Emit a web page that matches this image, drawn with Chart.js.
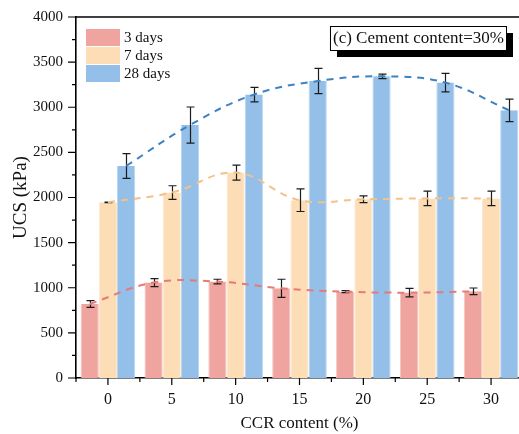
<!DOCTYPE html>
<html>
<head>
<meta charset="utf-8">
<script src="https://cdn.jsdelivr.net/npm/chart.js@4.4.1/dist/chart.umd.min.js"></script>
<style>
  html, body { margin: 0; padding: 0; background: #fff; overflow: hidden; }
  #wrap { position: relative; width: 530px; height: 434px; }
  #wrap canvas { position: absolute; left: 0; top: 0; display: block; }
  #trendLayer { pointer-events: none; }
</style>
</head>
<body>
<div id="wrap">
  <canvas id="ucsChart" width="530" height="434"></canvas>
  <canvas id="trendLayer" width="530" height="434"></canvas>
</div>
<script>
// UCS vs CCR content, cement content 30%
const categories  = ["0", "5", "10", "15", "20", "25", "30"];
const seriesNames = ["3 days", "7 days", "28 days"];
const ucs3  = [820, 1057, 1068, 994, 957, 946, 960];
const err3  = [38, 44, 26, 100, 12, 48, 37];
const ucs7  = [1947, 2055, 2276, 1970, 1980, 1990, 1990];
const err7  = [3, 75, 83, 125, 37, 80, 80];
const ucs28 = [2349, 2803, 3140, 3290, 3343, 3273, 2966];
const err28 = [138, 200, 80, 140, 25, 103, 125];
const yTicks = [0, 500, 1000, 1500, 2000, 2500, 3000, 3500, 4000];
const noteText = "(c) Cement content=30%";

const values = [ucs3, ucs7, ucs28];
const errors = [err3, err7, err28];
const barColors  = ["#efa49f", "#fcddb5", "#93bfe8"];
const barEdges   = ["#f5c3bf", "#fde9cf", "#b9d6f0"];
const lineColors = ["#e57a78", "#f3c18a", "#3e82c4"];
const SERIF = "'Liberation Serif', 'Times New Roman', serif";
const GROUP = 0.855;            // categoryPercentage for the bar groups
const BAR_W = GROUP / 3;        // one bar, in category units

const barSets = values.map((v, s) => ({
  label: seriesNames[s],
  data: v,
  backgroundColor: barColors[s],
  borderColor: barEdges[s],
  borderWidth: { left: 1, right: 1, top: 0, bottom: 0 },
  categoryPercentage: GROUP,
  barPercentage: 1
}));

// dashed trend curves, one per age, running over the centre of each bar
const trendSets = values.map((v, s) => ({
  label: seriesNames[s] + " trend",
  data: v.map((val, i) => ({ x: i + (s - 1) * BAR_W, y: val })),
  borderColor: lineColors[s],
  borderWidth: 2,
  borderDash: [7, 6],
  pointRadius: 0,
  tension: 0.4,
  fill: false
}));

const decor = {
  id: "decor",
  afterDatasetsDraw(chart) {
    const { ctx, scales: { y } } = chart;
    ctx.save();
    ctx.strokeStyle = "#1c1c1c";
    ctx.lineWidth = 1.2;
    values.forEach((vals, s) => {
      chart.getDatasetMeta(s).data.forEach((bar, j) => {
        const hi = y.getPixelForValue(vals[j] + errors[s][j]);
        const lo = y.getPixelForValue(vals[j] - errors[s][j]);
        const cx = Math.round(bar.x) + 0.5;
        ctx.beginPath();
        ctx.moveTo(cx, hi); ctx.lineTo(cx, lo);
        ctx.moveTo(cx - 4, hi); ctx.lineTo(cx + 4, hi);
        ctx.moveTo(cx - 4, lo); ctx.lineTo(cx + 4, lo);
        ctx.stroke();
      });
    });
    ctx.restore();
  },
  afterDraw(chart) {
    const { ctx, chartArea: a, scales: { x, y } } = chart;
    ctx.save();
    ctx.strokeStyle = "#000";
    ctx.lineWidth = 1.6;

    // top frame
    ctx.beginPath();
    ctx.moveTo(a.left - 0.8, a.top); ctx.lineTo(a.right + 4, a.top);
    ctx.stroke();

    // y ticks: major every 500, minor halfway
    ctx.lineWidth = 1.2;
    ctx.beginPath();
    yTicks.forEach((t, i) => {
      const py = y.getPixelForValue(t);
      ctx.moveTo(a.left - 8, py); ctx.lineTo(a.left, py);
      if (i < yTicks.length - 1) {
        const pm = y.getPixelForValue((t + yTicks[i + 1]) / 2);
        ctx.moveTo(a.left - 4, pm); ctx.lineTo(a.left, pm);
      }
    });
    // x ticks: major at categories, minor at group boundaries
    const step = x.getPixelForValue(1) - x.getPixelForValue(0);
    categories.forEach((c, i) => {
      const px = x.getPixelForValue(i);
      ctx.moveTo(px, a.bottom); ctx.lineTo(px, a.bottom + 7);
      ctx.moveTo(px - step / 2, a.bottom); ctx.lineTo(px - step / 2, a.bottom + 4);
    });
    ctx.stroke();

    // legend
    const lx = a.left + 10, ly = a.top + 12, bw = 34, bh = 17;
    ctx.font = "15px " + SERIF;
    ctx.textBaseline = "middle";
    ctx.textAlign = "left";
    seriesNames.forEach((name, s) => {
      const by = ly + s * (bh + 1);
      ctx.fillStyle = barColors[s];
      ctx.fillRect(lx, by, bw, bh);
      ctx.fillStyle = "#111";
      ctx.fillText(name, lx + bw + 4, by + bh / 2 + 1);
    });

    // note box with drop shadow
    ctx.font = "17px " + SERIF;
    const tw = ctx.measureText(noteText).width;
    const nw = tw + 5, nh = 24;
    const nx = a.right - 17 - nw, ny = a.top + 9;
    ctx.fillStyle = "#000";
    ctx.fillRect(nx + 7, ny + 7, nw, nh);
    ctx.fillStyle = "#fff";
    ctx.fillRect(nx, ny, nw, nh);
    ctx.lineWidth = 1;
    ctx.strokeRect(nx + 0.5, ny + 0.5, nw, nh);
    ctx.fillStyle = "#111";
    ctx.fillText(noteText, nx + 3, ny + nh / 2 + 1);
    ctx.restore();
  }
};

const baseChart = new Chart(document.getElementById("ucsChart"), {
  type: "bar",
  data: { labels: categories, datasets: barSets },
  options: {
    responsive: false,
    animation: false,
    layout: { padding: { top: 17, right: 7, left: 0, bottom: 0 } },
    plugins: { legend: { display: false }, tooltip: { enabled: false } },
    scales: {
      x: {
        type: "category",
        offset: true,
        grid: { display: false, drawTicks: false },
        border: { display: true, color: "#000", width: 1.6 },
        ticks: { color: "#111", padding: 12, font: { family: SERIF, size: 16 } },
        title: { display: true, text: "CCR content (%)", color: "#111", padding: { top: 0, bottom: 0 },
                 font: { family: SERIF, size: 17 } },
        afterFit(scale) { scale.height = 56; scale.paddingLeft = 0; scale.paddingRight = 0; }
      },
      y: {
        min: 0, max: 4000,
        grid: { display: false, drawTicks: false },
        border: { display: true, color: "#000", width: 1.6 },
        ticks: { stepSize: 500, color: "#111", padding: 13, font: { family: SERIF, size: 15 },
                 callback: v => String(v) },
        title: { display: true, text: "UCS (kPa)", color: "#111", padding: { top: 10, bottom: 0 },
                 font: { family: SERIF, size: 19 } },
        afterFit(scale) { scale.width = 76; scale.paddingTop = 0; scale.paddingBottom = 0; }
      }
    }
  },
  plugins: [decor]
});

// trend layer shares the plot area of the bar chart
const ca = baseChart.chartArea;
new Chart(document.getElementById("trendLayer"), {
  type: "line",
  data: { datasets: trendSets },
  options: {
    responsive: false,
    animation: false,
    layout: { padding: { left: ca.left, top: ca.top, right: baseChart.width - ca.right, bottom: baseChart.height - ca.bottom } },
    plugins: { legend: { display: false }, tooltip: { enabled: false } },
    scales: {
      x: { type: "linear", min: -0.5, max: 6.5, display: false },
      y: { min: 0, max: 4000, display: false }
    }
  }
});
</script>
</body>
</html>
